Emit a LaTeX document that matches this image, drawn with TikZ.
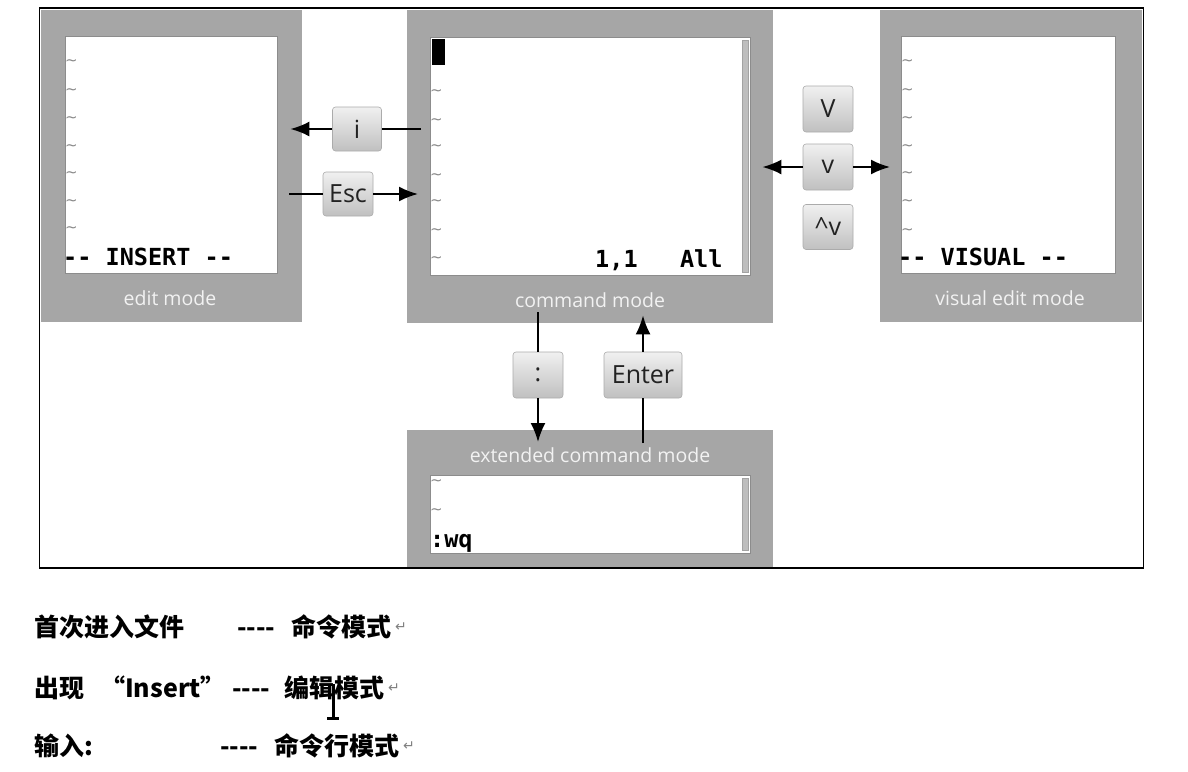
\documentclass[tikz,border=0pt]{standalone}
\usepackage{fontspec}
\setmainfont{Open Sans}
\newfontfamily\vimfont{DejaVu Sans Mono}
\newfontfamily\cjk{Noto Sans CJK SC}
\newfontfamily\symb{DejaVu Sans}
\usetikzlibrary{arrows.meta}
\definecolor{ModeGray}{HTML}{A6A6A6}
\definecolor{ScreenEdge}{HTML}{8C8C8C}
\definecolor{LabelInk}{HTML}{F2F2F2}
\definecolor{KeyTop}{HTML}{F0F0F0}
\definecolor{KeyBottom}{HTML}{C0C0C0}
\definecolor{KeyEdge}{HTML}{ABABAB}
\definecolor{KeyInk}{HTML}{222222}
\definecolor{TildeInk}{HTML}{8A8A8A}
\definecolor{BarGray}{HTML}{BEBEBE}
\tikzset{modebox/.style={fill=ModeGray,inner sep=0pt,anchor=north west},screen/.style={draw=ScreenEdge,line width=0.8pt,fill=white,inner sep=0pt,anchor=north west},modelabel/.style={text=LabelInk,font=\fontsize{19.5}{21}\selectfont,inner sep=0pt},keycap/.style={draw=KeyEdge,line width=0.6pt,rounded corners=3pt,top color=KeyTop,bottom color=KeyBottom,text=KeyInk,minimum height=45pt,minimum width=50pt,inner sep=0pt,font=\fontsize{25}{27}\selectfont},flow/.style={draw=black,line width=2pt,-{Latex[length=19pt,width=15pt]}},wire/.style={draw=black,line width=2pt},vimtext/.style={font=\vimfont\bfseries\fontsize{23.5}{25}\selectfont,anchor=base west,inner sep=0pt},tilde/.style={text=TildeInk,font=\symb\fontsize{15}{15}\selectfont,inner sep=0pt,anchor=west},note/.style={font=\cjk\bfseries\fontsize{25}{27}\selectfont,anchor=base west,inner sep=0pt},retmark/.style={text=gray,font=\symb\fontsize{14}{14}\selectfont,inner sep=0pt,anchor=base west}}

\begin{document}
\begin{tikzpicture}[x=1pt,y=-1pt]
\fill[white] (0,0) rectangle (1188,771);\useasboundingbox (0,0) rectangle (1188,771);
\node[modebox,minimum width=261pt,minimum height=312pt] (edit) at (41,10) {};
\node[modebox,minimum width=366pt,minimum height=313pt] (cmd) at (407,10) {};
\node[modebox,minimum width=262pt,minimum height=312pt] (vis) at (880,10) {};
\node[modebox,minimum width=366pt,minimum height=138pt] (ext) at (407,430) {};
\node[screen,minimum width=212pt,minimum height=237pt] (editscr) at (65,36) {};
\node[screen,minimum width=320pt,minimum height=238pt] (cmdscr) at (430,37) {};
\node[screen,minimum width=214pt,minimum height=237pt] (visscr) at (901,36) {};
\node[screen,minimum width=320pt,minimum height=78pt] (extscr) at (430,475) {};
\node[modelabel] (editlbl) at (170,298) {edit mode};
\node[modelabel] (cmdlbl) at (590,300) {command mode};
\node[modelabel] (vislbl) at (1010,298) {visual edit mode};
\node[modelabel] (extlbl) at (590,455) {extended command mode};
\foreach \y [count=\i] in {63,92,120,148,175,203,230} \node[tilde] (et\i) at (65,\y) {\textasciitilde};
\foreach \y [count=\i] in {93,122,148,177,203,232,260} \node[tilde] (ct\i) at (430,\y) {\textasciitilde};
\foreach \y [count=\i] in {63,92,120,148,175,203,232} \node[tilde] (vt\i) at (901,\y) {\textasciitilde};
\foreach \y [count=\i] in {483,512} \node[tilde] (xt\i) at (430,\y) {\textasciitilde};
\fill[black] (432,39) rectangle (445,65);
\filldraw[fill=BarGray,draw=ScreenEdge!80,line width=0.5pt] (742,40) rectangle (748,272);
\filldraw[fill=BarGray,draw=ScreenEdge!80,line width=0.5pt] (742,478) rectangle (748,550);
\node[vimtext] (insert) at (63,265) {-- INSERT --};
\node[vimtext] (visual) at (898,265) {-- VISUAL --};
\node[vimtext] (ruler) at (595,267) {1,1\ \ \ All};
\node[vimtext] (wq) at (430,547) {:wq};
\node[keycap,minimum width=49pt,minimum height=44pt] (ikey) at (357,129) {i};
\node[keycap,minimum height=44pt] (esckey) at (348,194) {Esc};
\node[keycap,minimum height=46pt] (Vkey) at (828,109) {V};
\node[keycap,minimum height=46pt] (vkey) at (828,167) {v};
\node[keycap] (cvkey) at (828,227) {\textasciicircum v};
\node[keycap,minimum height=46pt] (colonkey) at (538,375) {:};
\node[keycap,minimum width=78pt,minimum height=46pt] (enterkey) at (643,375) {Enter};
\draw[wire,shorten <=-14pt] (cmd.west |- ikey) -- (ikey);\draw[flow,shorten >=-12pt] (ikey) -- (ikey -| edit.east);
\draw[wire,shorten <=-13pt] (esckey -| edit.east) -- (esckey);\draw[flow,shorten >=-11pt] (esckey) -- (esckey -| cmd.west);
\draw[flow,shorten >=-11pt] (vkey) -- (vkey -| cmd.east);\draw[flow,shorten >=-10pt] (vkey) -- (vkey -| vis.west);
\draw[wire,shorten <=-11pt] (cmd.south -| colonkey) -- (colonkey);\draw[flow,shorten >=-12pt] (colonkey) -- (colonkey |- ext.north);
\draw[wire,shorten <=-13pt] (ext.north -| enterkey) -- (enterkey);\draw[flow,shorten >=-8pt] (enterkey) -- (enterkey |- cmd.south);
\draw[black,line width=1.3pt] (39.5,8) rectangle (1143.5,568);
\node[note] (firstin) at (34,636) {首次进入文件};\node[note] (dash1) at (237,636) {----};\node[note] (cmdmode) at (291,636) {命令模式};\node[retmark] (ret1) at (395,631) {↵};
\node[note] (appear) at (34,697) {出现};\node[note] (insword) at (100,697) {“Insert”};\node[note] (dash2) at (232,697) {----};\node[note] (editmode) at (284,697) {编辑模式};\node[retmark] (ret2) at (388,692) {↵};
\node[note] (typein) at (34,755) {输入:};\node[note] (dash3) at (220,755) {----};\node[note] (cmdline) at (274,755) {命令行模式};\node[retmark] (ret3) at (403,750) {↵};
\draw[black,line width=3pt] (333,684) -- (333,718);\draw[black,line width=3pt] (327,718) -- (339,718);
\end{tikzpicture}
\end{document}
